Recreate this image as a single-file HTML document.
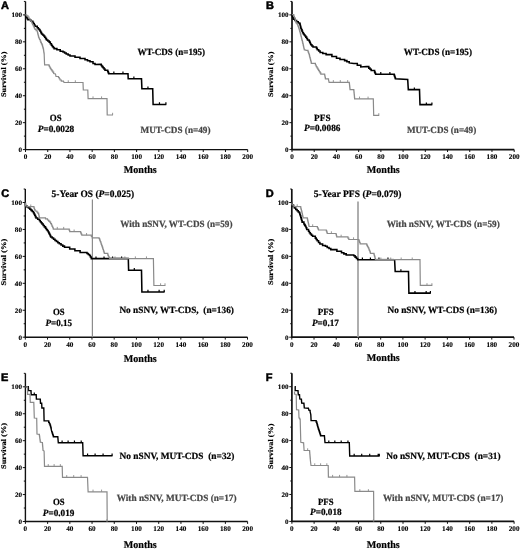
<!DOCTYPE html><html><head><meta charset="utf-8"><style>html,body{margin:0;padding:0;background:#fff;}svg{display:block;will-change:transform;text-rendering:geometricPrecision;}.s{font-family:"Liberation Sans",sans-serif;font-weight:bold;stroke:#000;stroke-width:0.5px;}.r{font-family:"Liberation Serif",serif;font-weight:bold;}.k{stroke:currentColor;stroke-width:0.22px;}</style></head><body>
<svg width="520" height="549" viewBox="0 0 520 549">
<rect width="520" height="549" fill="#fff"/>
<path d="M25.5 1.43V149.6" fill="none" stroke="#111" stroke-width="1.4"/>
<path d="M24.9 149.6H247.7" fill="none" stroke="#111" stroke-width="1.4"/>
<path d="M22.9 149.6H25.5M23.9 136.13H25.5M22.9 122.66H25.5M23.9 109.19H25.5M22.9 95.72H25.5M23.9 82.25H25.5M22.9 68.78H25.5M23.9 55.31H25.5M22.9 41.84H25.5M23.9 28.37H25.5M22.9 14.9H25.5M23.9 1.43H25.5M25.5 149.6V152M47.72 149.6V152M69.94 149.6V152M92.16 149.6V152M114.38 149.6V152M136.6 149.6V152M158.82 149.6V152M181.04 149.6V152M203.26 149.6V152M225.48 149.6V152M247.7 149.6V152" stroke="#111" stroke-width="1"/>
<text class="r" font-size="6.7" stroke="#000" stroke-width="0.12" text-anchor="end" transform="translate(22.2 152) scale(1.07 1)">0</text>
<text class="r" font-size="6.7" stroke="#000" stroke-width="0.12" text-anchor="end" transform="translate(22.2 125.06) scale(1.07 1)">20</text>
<text class="r" font-size="6.7" stroke="#000" stroke-width="0.12" text-anchor="end" transform="translate(22.2 98.12) scale(1.07 1)">40</text>
<text class="r" font-size="6.7" stroke="#000" stroke-width="0.12" text-anchor="end" transform="translate(22.2 71.18) scale(1.07 1)">60</text>
<text class="r" font-size="6.7" stroke="#000" stroke-width="0.12" text-anchor="end" transform="translate(22.2 44.24) scale(1.07 1)">80</text>
<text class="r" font-size="6.7" stroke="#000" stroke-width="0.12" text-anchor="end" transform="translate(22.2 17.3) scale(1.07 1)">100</text>
<text class="r" font-size="7.2" stroke="#000" stroke-width="0.12" text-anchor="middle" transform="translate(25.5 158.9) scale(1.0 1)">0</text>
<text class="r" font-size="7.2" stroke="#000" stroke-width="0.12" text-anchor="middle" transform="translate(47.72 158.9) scale(1.0 1)">20</text>
<text class="r" font-size="7.2" stroke="#000" stroke-width="0.12" text-anchor="middle" transform="translate(69.94 158.9) scale(1.0 1)">40</text>
<text class="r" font-size="7.2" stroke="#000" stroke-width="0.12" text-anchor="middle" transform="translate(92.16 158.9) scale(1.0 1)">60</text>
<text class="r" font-size="7.2" stroke="#000" stroke-width="0.12" text-anchor="middle" transform="translate(114.38 158.9) scale(1.0 1)">80</text>
<text class="r" font-size="7.2" stroke="#000" stroke-width="0.12" text-anchor="middle" transform="translate(136.6 158.9) scale(1.0 1)">100</text>
<text class="r" font-size="7.2" stroke="#000" stroke-width="0.12" text-anchor="middle" transform="translate(158.82 158.9) scale(1.0 1)">120</text>
<text class="r" font-size="7.2" stroke="#000" stroke-width="0.12" text-anchor="middle" transform="translate(181.04 158.9) scale(1.0 1)">140</text>
<text class="r" font-size="7.2" stroke="#000" stroke-width="0.12" text-anchor="middle" transform="translate(203.26 158.9) scale(1.0 1)">160</text>
<text class="r" font-size="7.2" stroke="#000" stroke-width="0.12" text-anchor="middle" transform="translate(225.48 158.9) scale(1.0 1)">180</text>
<text class="r" font-size="7.2" stroke="#000" stroke-width="0.12" text-anchor="middle" transform="translate(247.7 158.9) scale(1.0 1)">200</text>
<path d="M292 1.43V149.6" fill="none" stroke="#111" stroke-width="1.7"/>
<path d="M291.4 149.6H514.2" fill="none" stroke="#111" stroke-width="1.7"/>
<path d="M289.4 149.6H292M290.4 136.13H292M289.4 122.66H292M290.4 109.19H292M289.4 95.72H292M290.4 82.25H292M289.4 68.78H292M290.4 55.31H292M289.4 41.84H292M290.4 28.37H292M289.4 14.9H292M290.4 1.43H292M292 149.6V152M314.22 149.6V152M336.44 149.6V152M358.66 149.6V152M380.88 149.6V152M403.1 149.6V152M425.32 149.6V152M447.54 149.6V152M469.76 149.6V152M491.98 149.6V152M514.2 149.6V152" stroke="#111" stroke-width="1"/>
<text class="r" font-size="6.7" stroke="#000" stroke-width="0.12" text-anchor="end" transform="translate(288.7 152) scale(1.07 1)">0</text>
<text class="r" font-size="6.7" stroke="#000" stroke-width="0.12" text-anchor="end" transform="translate(288.7 125.06) scale(1.07 1)">20</text>
<text class="r" font-size="6.7" stroke="#000" stroke-width="0.12" text-anchor="end" transform="translate(288.7 98.12) scale(1.07 1)">40</text>
<text class="r" font-size="6.7" stroke="#000" stroke-width="0.12" text-anchor="end" transform="translate(288.7 71.18) scale(1.07 1)">60</text>
<text class="r" font-size="6.7" stroke="#000" stroke-width="0.12" text-anchor="end" transform="translate(288.7 44.24) scale(1.07 1)">80</text>
<text class="r" font-size="6.7" stroke="#000" stroke-width="0.12" text-anchor="end" transform="translate(288.7 17.3) scale(1.07 1)">100</text>
<text class="r" font-size="7.2" stroke="#000" stroke-width="0.12" text-anchor="middle" transform="translate(292 158.9) scale(1.0 1)">0</text>
<text class="r" font-size="7.2" stroke="#000" stroke-width="0.12" text-anchor="middle" transform="translate(314.22 158.9) scale(1.0 1)">20</text>
<text class="r" font-size="7.2" stroke="#000" stroke-width="0.12" text-anchor="middle" transform="translate(336.44 158.9) scale(1.0 1)">40</text>
<text class="r" font-size="7.2" stroke="#000" stroke-width="0.12" text-anchor="middle" transform="translate(358.66 158.9) scale(1.0 1)">60</text>
<text class="r" font-size="7.2" stroke="#000" stroke-width="0.12" text-anchor="middle" transform="translate(380.88 158.9) scale(1.0 1)">80</text>
<text class="r" font-size="7.2" stroke="#000" stroke-width="0.12" text-anchor="middle" transform="translate(403.1 158.9) scale(1.0 1)">100</text>
<text class="r" font-size="7.2" stroke="#000" stroke-width="0.12" text-anchor="middle" transform="translate(425.32 158.9) scale(1.0 1)">120</text>
<text class="r" font-size="7.2" stroke="#000" stroke-width="0.12" text-anchor="middle" transform="translate(447.54 158.9) scale(1.0 1)">140</text>
<text class="r" font-size="7.2" stroke="#000" stroke-width="0.12" text-anchor="middle" transform="translate(469.76 158.9) scale(1.0 1)">160</text>
<text class="r" font-size="7.2" stroke="#000" stroke-width="0.12" text-anchor="middle" transform="translate(491.98 158.9) scale(1.0 1)">180</text>
<text class="r" font-size="7.2" stroke="#000" stroke-width="0.12" text-anchor="middle" transform="translate(514.2 158.9) scale(1.0 1)">200</text>
<path d="M25.3 189.03V337.2" fill="none" stroke="#111" stroke-width="1.4"/>
<path d="M24.7 337.2H247.5" fill="none" stroke="#111" stroke-width="1.4"/>
<path d="M22.7 337.2H25.3M23.7 323.73H25.3M22.7 310.26H25.3M23.7 296.79H25.3M22.7 283.32H25.3M23.7 269.85H25.3M22.7 256.38H25.3M23.7 242.91H25.3M22.7 229.44H25.3M23.7 215.97H25.3M22.7 202.5H25.3M23.7 189.03H25.3M25.3 337.2V339.6M47.52 337.2V339.6M69.74 337.2V339.6M91.96 337.2V339.6M114.18 337.2V339.6M136.4 337.2V339.6M158.62 337.2V339.6M180.84 337.2V339.6M203.06 337.2V339.6M225.28 337.2V339.6M247.5 337.2V339.6" stroke="#111" stroke-width="1"/>
<text class="r" font-size="6.7" stroke="#000" stroke-width="0.12" text-anchor="end" transform="translate(22 339.6) scale(1.07 1)">0</text>
<text class="r" font-size="6.7" stroke="#000" stroke-width="0.12" text-anchor="end" transform="translate(22 312.66) scale(1.07 1)">20</text>
<text class="r" font-size="6.7" stroke="#000" stroke-width="0.12" text-anchor="end" transform="translate(22 285.72) scale(1.07 1)">40</text>
<text class="r" font-size="6.7" stroke="#000" stroke-width="0.12" text-anchor="end" transform="translate(22 258.78) scale(1.07 1)">60</text>
<text class="r" font-size="6.7" stroke="#000" stroke-width="0.12" text-anchor="end" transform="translate(22 231.84) scale(1.07 1)">80</text>
<text class="r" font-size="6.7" stroke="#000" stroke-width="0.12" text-anchor="end" transform="translate(22 204.9) scale(1.07 1)">100</text>
<text class="r" font-size="7.2" stroke="#000" stroke-width="0.12" text-anchor="middle" transform="translate(25.3 346.5) scale(1.0 1)">0</text>
<text class="r" font-size="7.2" stroke="#000" stroke-width="0.12" text-anchor="middle" transform="translate(47.52 346.5) scale(1.0 1)">20</text>
<text class="r" font-size="7.2" stroke="#000" stroke-width="0.12" text-anchor="middle" transform="translate(69.74 346.5) scale(1.0 1)">40</text>
<text class="r" font-size="7.2" stroke="#000" stroke-width="0.12" text-anchor="middle" transform="translate(91.96 346.5) scale(1.0 1)">60</text>
<text class="r" font-size="7.2" stroke="#000" stroke-width="0.12" text-anchor="middle" transform="translate(114.18 346.5) scale(1.0 1)">80</text>
<text class="r" font-size="7.2" stroke="#000" stroke-width="0.12" text-anchor="middle" transform="translate(136.4 346.5) scale(1.0 1)">100</text>
<text class="r" font-size="7.2" stroke="#000" stroke-width="0.12" text-anchor="middle" transform="translate(158.62 346.5) scale(1.0 1)">120</text>
<text class="r" font-size="7.2" stroke="#000" stroke-width="0.12" text-anchor="middle" transform="translate(180.84 346.5) scale(1.0 1)">140</text>
<text class="r" font-size="7.2" stroke="#000" stroke-width="0.12" text-anchor="middle" transform="translate(203.06 346.5) scale(1.0 1)">160</text>
<text class="r" font-size="7.2" stroke="#000" stroke-width="0.12" text-anchor="middle" transform="translate(225.28 346.5) scale(1.0 1)">180</text>
<text class="r" font-size="7.2" stroke="#000" stroke-width="0.12" text-anchor="middle" transform="translate(247.5 346.5) scale(1.0 1)">200</text>
<path d="M291.8 189.03V337.2" fill="none" stroke="#111" stroke-width="1.7"/>
<path d="M291.2 337.2H514" fill="none" stroke="#111" stroke-width="1.7"/>
<path d="M289.2 337.2H291.8M290.2 323.73H291.8M289.2 310.26H291.8M290.2 296.79H291.8M289.2 283.32H291.8M290.2 269.85H291.8M289.2 256.38H291.8M290.2 242.91H291.8M289.2 229.44H291.8M290.2 215.97H291.8M289.2 202.5H291.8M290.2 189.03H291.8M291.8 337.2V339.6M314.02 337.2V339.6M336.24 337.2V339.6M358.46 337.2V339.6M380.68 337.2V339.6M402.9 337.2V339.6M425.12 337.2V339.6M447.34 337.2V339.6M469.56 337.2V339.6M491.78 337.2V339.6M514 337.2V339.6" stroke="#111" stroke-width="1"/>
<text class="r" font-size="6.7" stroke="#000" stroke-width="0.12" text-anchor="end" transform="translate(288.5 339.6) scale(1.07 1)">0</text>
<text class="r" font-size="6.7" stroke="#000" stroke-width="0.12" text-anchor="end" transform="translate(288.5 312.66) scale(1.07 1)">20</text>
<text class="r" font-size="6.7" stroke="#000" stroke-width="0.12" text-anchor="end" transform="translate(288.5 285.72) scale(1.07 1)">40</text>
<text class="r" font-size="6.7" stroke="#000" stroke-width="0.12" text-anchor="end" transform="translate(288.5 258.78) scale(1.07 1)">60</text>
<text class="r" font-size="6.7" stroke="#000" stroke-width="0.12" text-anchor="end" transform="translate(288.5 231.84) scale(1.07 1)">80</text>
<text class="r" font-size="6.7" stroke="#000" stroke-width="0.12" text-anchor="end" transform="translate(288.5 204.9) scale(1.07 1)">100</text>
<text class="r" font-size="7.2" stroke="#000" stroke-width="0.12" text-anchor="middle" transform="translate(291.8 346.5) scale(1.0 1)">0</text>
<text class="r" font-size="7.2" stroke="#000" stroke-width="0.12" text-anchor="middle" transform="translate(314.02 346.5) scale(1.0 1)">20</text>
<text class="r" font-size="7.2" stroke="#000" stroke-width="0.12" text-anchor="middle" transform="translate(336.24 346.5) scale(1.0 1)">40</text>
<text class="r" font-size="7.2" stroke="#000" stroke-width="0.12" text-anchor="middle" transform="translate(358.46 346.5) scale(1.0 1)">60</text>
<text class="r" font-size="7.2" stroke="#000" stroke-width="0.12" text-anchor="middle" transform="translate(380.68 346.5) scale(1.0 1)">80</text>
<text class="r" font-size="7.2" stroke="#000" stroke-width="0.12" text-anchor="middle" transform="translate(402.9 346.5) scale(1.0 1)">100</text>
<text class="r" font-size="7.2" stroke="#000" stroke-width="0.12" text-anchor="middle" transform="translate(425.12 346.5) scale(1.0 1)">120</text>
<text class="r" font-size="7.2" stroke="#000" stroke-width="0.12" text-anchor="middle" transform="translate(447.34 346.5) scale(1.0 1)">140</text>
<text class="r" font-size="7.2" stroke="#000" stroke-width="0.12" text-anchor="middle" transform="translate(469.56 346.5) scale(1.0 1)">160</text>
<text class="r" font-size="7.2" stroke="#000" stroke-width="0.12" text-anchor="middle" transform="translate(491.78 346.5) scale(1.0 1)">180</text>
<text class="r" font-size="7.2" stroke="#000" stroke-width="0.12" text-anchor="middle" transform="translate(514 346.5) scale(1.0 1)">200</text>
<path d="M25.4 373.33V521.5" fill="none" stroke="#111" stroke-width="1.4"/>
<path d="M24.8 521.5H247.6" fill="none" stroke="#111" stroke-width="1.4"/>
<path d="M22.8 521.5H25.4M23.8 508.03H25.4M22.8 494.56H25.4M23.8 481.09H25.4M22.8 467.62H25.4M23.8 454.15H25.4M22.8 440.68H25.4M23.8 427.21H25.4M22.8 413.74H25.4M23.8 400.27H25.4M22.8 386.8H25.4M23.8 373.33H25.4M25.4 521.5V523.9M47.62 521.5V523.9M69.84 521.5V523.9M92.06 521.5V523.9M114.28 521.5V523.9M136.5 521.5V523.9M158.72 521.5V523.9M180.94 521.5V523.9M203.16 521.5V523.9M225.38 521.5V523.9M247.6 521.5V523.9" stroke="#111" stroke-width="1"/>
<text class="r" font-size="6.7" stroke="#000" stroke-width="0.12" text-anchor="end" transform="translate(22.1 523.9) scale(1.07 1)">0</text>
<text class="r" font-size="6.7" stroke="#000" stroke-width="0.12" text-anchor="end" transform="translate(22.1 496.96) scale(1.07 1)">20</text>
<text class="r" font-size="6.7" stroke="#000" stroke-width="0.12" text-anchor="end" transform="translate(22.1 470.02) scale(1.07 1)">40</text>
<text class="r" font-size="6.7" stroke="#000" stroke-width="0.12" text-anchor="end" transform="translate(22.1 443.08) scale(1.07 1)">60</text>
<text class="r" font-size="6.7" stroke="#000" stroke-width="0.12" text-anchor="end" transform="translate(22.1 416.14) scale(1.07 1)">80</text>
<text class="r" font-size="6.7" stroke="#000" stroke-width="0.12" text-anchor="end" transform="translate(22.1 389.2) scale(1.07 1)">100</text>
<text class="r" font-size="7.2" stroke="#000" stroke-width="0.12" text-anchor="middle" transform="translate(25.4 530.8) scale(1.0 1)">0</text>
<text class="r" font-size="7.2" stroke="#000" stroke-width="0.12" text-anchor="middle" transform="translate(47.62 530.8) scale(1.0 1)">20</text>
<text class="r" font-size="7.2" stroke="#000" stroke-width="0.12" text-anchor="middle" transform="translate(69.84 530.8) scale(1.0 1)">40</text>
<text class="r" font-size="7.2" stroke="#000" stroke-width="0.12" text-anchor="middle" transform="translate(92.06 530.8) scale(1.0 1)">60</text>
<text class="r" font-size="7.2" stroke="#000" stroke-width="0.12" text-anchor="middle" transform="translate(114.28 530.8) scale(1.0 1)">80</text>
<text class="r" font-size="7.2" stroke="#000" stroke-width="0.12" text-anchor="middle" transform="translate(136.5 530.8) scale(1.0 1)">100</text>
<text class="r" font-size="7.2" stroke="#000" stroke-width="0.12" text-anchor="middle" transform="translate(158.72 530.8) scale(1.0 1)">120</text>
<text class="r" font-size="7.2" stroke="#000" stroke-width="0.12" text-anchor="middle" transform="translate(180.94 530.8) scale(1.0 1)">140</text>
<text class="r" font-size="7.2" stroke="#000" stroke-width="0.12" text-anchor="middle" transform="translate(203.16 530.8) scale(1.0 1)">160</text>
<text class="r" font-size="7.2" stroke="#000" stroke-width="0.12" text-anchor="middle" transform="translate(225.38 530.8) scale(1.0 1)">180</text>
<text class="r" font-size="7.2" stroke="#000" stroke-width="0.12" text-anchor="middle" transform="translate(247.6 530.8) scale(1.0 1)">200</text>
<path d="M291.9 373.23V521.4" fill="none" stroke="#111" stroke-width="1.7"/>
<path d="M291.3 521.4H514.1" fill="none" stroke="#111" stroke-width="1.7"/>
<path d="M289.3 521.4H291.9M290.3 507.93H291.9M289.3 494.46H291.9M290.3 480.99H291.9M289.3 467.52H291.9M290.3 454.05H291.9M289.3 440.58H291.9M290.3 427.11H291.9M289.3 413.64H291.9M290.3 400.17H291.9M289.3 386.7H291.9M290.3 373.23H291.9M291.9 521.4V523.8M314.12 521.4V523.8M336.34 521.4V523.8M358.56 521.4V523.8M380.78 521.4V523.8M403 521.4V523.8M425.22 521.4V523.8M447.44 521.4V523.8M469.66 521.4V523.8M491.88 521.4V523.8M514.1 521.4V523.8" stroke="#111" stroke-width="1"/>
<text class="r" font-size="6.7" stroke="#000" stroke-width="0.12" text-anchor="end" transform="translate(288.6 523.8) scale(1.07 1)">0</text>
<text class="r" font-size="6.7" stroke="#000" stroke-width="0.12" text-anchor="end" transform="translate(288.6 496.86) scale(1.07 1)">20</text>
<text class="r" font-size="6.7" stroke="#000" stroke-width="0.12" text-anchor="end" transform="translate(288.6 469.92) scale(1.07 1)">40</text>
<text class="r" font-size="6.7" stroke="#000" stroke-width="0.12" text-anchor="end" transform="translate(288.6 442.98) scale(1.07 1)">60</text>
<text class="r" font-size="6.7" stroke="#000" stroke-width="0.12" text-anchor="end" transform="translate(288.6 416.04) scale(1.07 1)">80</text>
<text class="r" font-size="6.7" stroke="#000" stroke-width="0.12" text-anchor="end" transform="translate(288.6 389.1) scale(1.07 1)">100</text>
<text class="r" font-size="7.2" stroke="#000" stroke-width="0.12" text-anchor="middle" transform="translate(291.9 530.7) scale(1.0 1)">0</text>
<text class="r" font-size="7.2" stroke="#000" stroke-width="0.12" text-anchor="middle" transform="translate(314.12 530.7) scale(1.0 1)">20</text>
<text class="r" font-size="7.2" stroke="#000" stroke-width="0.12" text-anchor="middle" transform="translate(336.34 530.7) scale(1.0 1)">40</text>
<text class="r" font-size="7.2" stroke="#000" stroke-width="0.12" text-anchor="middle" transform="translate(358.56 530.7) scale(1.0 1)">60</text>
<text class="r" font-size="7.2" stroke="#000" stroke-width="0.12" text-anchor="middle" transform="translate(380.78 530.7) scale(1.0 1)">80</text>
<text class="r" font-size="7.2" stroke="#000" stroke-width="0.12" text-anchor="middle" transform="translate(403 530.7) scale(1.0 1)">100</text>
<text class="r" font-size="7.2" stroke="#000" stroke-width="0.12" text-anchor="middle" transform="translate(425.22 530.7) scale(1.0 1)">120</text>
<text class="r" font-size="7.2" stroke="#000" stroke-width="0.12" text-anchor="middle" transform="translate(447.44 530.7) scale(1.0 1)">140</text>
<text class="r" font-size="7.2" stroke="#000" stroke-width="0.12" text-anchor="middle" transform="translate(469.66 530.7) scale(1.0 1)">160</text>
<text class="r" font-size="7.2" stroke="#000" stroke-width="0.12" text-anchor="middle" transform="translate(491.88 530.7) scale(1.0 1)">180</text>
<text class="r" font-size="7.2" stroke="#000" stroke-width="0.12" text-anchor="middle" transform="translate(514.1 530.7) scale(1.0 1)">200</text>
<path d="M92.4 199.4V337.2" stroke="#8c8c8c" stroke-width="1.2"/>
<path d="M358 201.5V337.2" stroke="#a0a0a0" stroke-width="1.7"/>
<path d="M25.5 15 L25.7 16.4 L26.43 16.4 L26.43 17.5 L27.17 17.5 L27.17 18.6 L27.9 18.6 L27.9 19.7 L30.7 19.7 L30.7 21.3 L32.8 21.3 L32.8 22.4 L33.53 22.4 L33.53 23.67 L34.27 23.67 L34.27 24.93 L35 24.93 L35 26.2 L37.2 26.2 L37.2 27.8 L38.3 27.8 L38.3 28.9 L39.4 28.9 L39.4 30 L40.13 30 L40.13 31.3 L40.87 31.3 L40.87 32.6 L41.6 32.6 L41.6 33.9 L42.7 33.9 L42.7 34.95 L43.8 34.95 L43.8 36 L44.7 36 L44.7 37.3 L45.6 37.3 L45.6 38.6 L46.5 38.6 L46.5 39.9 L47.85 39.9 L47.85 41 L49.2 41 L49.2 42.1 L50.3 42.1 L50.3 43.7 L51.4 43.7 L51.4 45.3 L52.3 45.3 L52.3 46.4 L53.2 46.4 L53.2 47.5 L54.1 47.5 L54.1 48.6 L56.9 48.6 L56.9 49.7 L60.2 49.7 L60.2 51.3 L63 51.3 L63 52 L64.6 52 L64.6 53 L66.2 53 L66.2 54 L68.1 54 L68.1 55 L70 55 L70 56 L75 56 L75 57.3 L80 57.3 L80 58.5 L85 58.5 L85 59.8 L87.5 59.8 L87.5 60.8 L90 60.8 L90 61.8 L93 61.8 L93 63.5 L95 63.5 L95 64.5 L100.5 64.3 L101.25 64.3 L101.25 65.45 L102 65.45 L102 66.6 L103 66.6 L103 67.8 L104 67.8 L104 69 L105 69 L105 70.2 L107.7 70.2 L107.7 71.5 L108.2 71.5 L108.2 72.6 L108.7 72.6 L108.7 73.7 L128 73.7 L128.2 78.7 L141.5 78.7 L141.9 88.8 L152.7 88.8 L153.1 104.4 L166.3 104.4" fill="none" stroke="#000" stroke-width="1.55" stroke-linejoin="miter"/>
<path d="M113.86 71.5V73.7M122.96 71.5V73.7M133.88 76.5V78.7M147.95 86.6V88.8M159.46 102.2V104.4M165.9 102.2V104.4" stroke="#000" stroke-width="1.2"/>
<path d="M25.3 14.8 L26.65 14.8 L26.65 15.9 L28 15.9 L28 17 L29 17 L29 18.5 L30 18.5 L30 20 L30.83 20 L30.83 21.5 L31.67 21.5 L31.67 23 L32.5 23 L32.5 24.5 L33.12 24.5 L33.12 25.75 L33.75 25.75 L33.75 27 L34.38 27 L34.38 28.25 L35 28.25 L35 29.5 L36.15 29.5 L36.15 30.75 L37.3 30.75 L37.3 32 L37.6 32 L37.6 33.2 L37.9 33.2 L37.9 34.4 L38.2 34.4 L38.2 35.6 L38.5 35.6 L38.5 36.8 L38.8 36.8 L38.8 38 L39.5 38 L39.5 39.5 L40.2 39.5 L40.2 41 L40.78 41 L40.78 42.33 L41.35 42.33 L41.35 43.65 L41.92 43.65 L41.92 44.97 L42.5 44.97 L42.5 46.3 L42.83 46.3 L42.83 47.53 L43.17 47.53 L43.17 48.77 L43.5 48.77 L43.5 50 L43.67 50 L43.67 51.25 L43.85 51.25 L43.85 52.5 L44.03 52.5 L44.03 53.75 L44.2 53.75 L44.2 55 L44.6 64.8 L48.5 64.8 L49 64.8 L49 65.9 L49.5 65.9 L49.5 67 L50.25 67 L50.25 68.3 L51 68.3 L51 69.6 L51.9 69.6 L51.9 70.9 L52.8 70.9 L52.8 72.2 L53.7 72.2 L53.7 73.5 L55.5 74 L56 76.5 L58.5 76.5 L58.5 77.5 L59.25 77.5 L59.25 78.75 L60 78.75 L60 80 L61.3 80 L61.3 81.2 L63.5 81.2 L64 82.5 L83 82.5 L83.3 90 L87.8 90 L88.1 98.6 L107 98.6 L107.2 115 L113 115" fill="none" stroke="#8a8a8a" stroke-width="1.2" stroke-linejoin="miter"/>
<path d="M68.26 80.3V82.5M75.33 80.3V82.5M93.02 96.4V98.6M101.57 96.4V98.6M112.6 112.8V115" stroke="#8a8a8a" stroke-width="0.9"/>
<path d="M292 15 L292.43 15 L292.43 16.37 L292.87 16.37 L292.87 17.73 L293.3 17.73 L293.3 19.1 L294.95 19.1 L294.95 20.45 L296.6 20.45 L296.6 21.8 L298.2 21.8 L298.2 22.9 L299.8 22.9 L299.8 24 L300.17 24 L300.17 25.47 L300.53 25.47 L300.53 26.93 L300.9 26.93 L300.9 28.4 L301.47 28.4 L301.47 29.87 L302.03 29.87 L302.03 31.33 L302.6 31.33 L302.6 32.8 L303.4 32.8 L303.4 33.9 L304.2 33.9 L304.2 35 L305 35 L305 36.05 L305.8 36.05 L305.8 37.1 L306.65 37.1 L306.65 38.5 L307.5 38.5 L307.5 39.9 L309.1 39.9 L309.1 41 L309.67 41 L309.67 42.27 L310.23 42.27 L310.23 43.53 L310.8 43.53 L310.8 44.8 L311.9 44.8 L311.9 45.9 L313 45.9 L313 47 L315.7 47 L316.5 47 L316.5 48.35 L317.3 48.35 L317.3 49.7 L318.7 49.7 L318.7 51.05 L320.1 51.05 L320.1 52.4 L322.8 52.4 L322.8 53.5 L326.1 53.5 L326.1 54.6 L331.9 54.6 L331.9 56.5 L336.5 56.5 L336.5 58.3 L340 58.3 L340 59.4 L344.6 59.4 L344.6 60.6 L346.9 60.6 L346.9 61.75 L349.2 61.75 L349.2 62.9 L353.8 63.5 L357.3 63.5 L357.3 65.2 L360.8 65.2 L360.8 66.9 L366.5 66.6 L368.8 66.6 L368.8 68.1 L370 68.1 L370 69.25 L371.2 69.25 L371.2 70.4 L374.6 70.4 L374.6 72.1 L375.1 72.1 L375.1 73.15 L375.6 73.15 L375.6 74.2 L393.8 74.2 L394.2 74.2 L394.2 75.35 L394.6 75.35 L394.6 76.5 L395 76.5 L395 77.65 L395.4 77.65 L395.4 78.8 L407.7 79.4 L408.3 89.6 L419.5 89.6 L420 104.6 L432.3 104.6" fill="none" stroke="#000" stroke-width="1.55" stroke-linejoin="miter"/>
<path d="M380.77 72V74.2M389.89 72V74.2M414.35 87.4V89.6M426.37 102.4V104.6M431.9 102.4V104.6" stroke="#000" stroke-width="1.2"/>
<path d="M292 14.7 L293.8 14.7 L293.8 16.4 L294.4 16.4 L294.4 17.7 L295 17.7 L295 19 L295.33 19 L295.33 20.3 L295.67 20.3 L295.67 21.6 L296 21.6 L296 22.9 L296.85 22.9 L296.85 24 L297.7 24 L297.7 25.1 L298.1 25.1 L298.1 26.33 L298.5 26.33 L298.5 27.55 L298.9 27.55 L298.9 28.77 L299.3 28.77 L299.3 30 L299.67 30 L299.67 31.3 L300.03 31.3 L300.03 32.6 L300.4 32.6 L300.4 33.9 L300.72 33.9 L300.72 35.2 L301.04 35.2 L301.04 36.5 L301.36 36.5 L301.36 37.8 L301.68 37.8 L301.68 39.1 L302 39.1 L302 40.4 L302.37 40.4 L302.37 41.87 L302.73 41.87 L302.73 43.33 L303.1 43.33 L303.1 44.8 L303.38 44.8 L303.38 46.02 L303.65 46.02 L303.65 47.25 L303.93 47.25 L303.93 48.48 L304.2 48.48 L304.2 49.7 L306.4 50.3 L308 50.3 L308 51.9 L308.55 51.9 L308.55 53.25 L309.1 53.25 L309.1 54.6 L309.47 54.6 L309.47 56.07 L309.83 56.07 L309.83 57.53 L310.2 57.53 L310.2 59 L310.57 59 L310.57 60.47 L310.93 60.47 L310.93 61.93 L311.3 61.93 L311.3 63.4 L314.6 63.4 L315.4 63.4 L315.4 65 L316.2 65 L316.2 66.6 L316.97 66.6 L316.97 67.87 L317.73 67.87 L317.73 69.13 L318.5 69.13 L318.5 70.4 L319.27 70.4 L319.27 71.67 L320.03 71.67 L320.03 72.93 L320.8 72.93 L320.8 74.2 L324.6 74.2 L324.6 75 L324.87 75 L324.87 76.27 L325.13 76.27 L325.13 77.53 L325.4 77.53 L325.4 78.8 L328.5 78.8 L328.5 79.6 L329.1 82.3 L349.2 82.3 L349.33 82.3 L349.33 83.52 L349.47 83.52 L349.47 84.73 L349.6 84.73 L349.6 85.95 L349.73 85.95 L349.73 87.17 L349.87 87.17 L349.87 88.38 L350 88.38 L350 89.6 L353.8 89.6 L353.8 90.4 L353.93 90.4 L353.93 91.8 L354.07 91.8 L354.07 93.2 L354.2 93.2 L354.2 94.6 L354.33 94.6 L354.33 96 L354.47 96 L354.47 97.4 L354.6 97.4 L354.6 98.8 L373.3 98.8 L373.7 115.4 L379.2 115.4" fill="none" stroke="#8a8a8a" stroke-width="1.2" stroke-linejoin="miter"/>
<path d="M333.33 80.1V82.3M340.31 80.1V82.3M347.7 80.1V82.3M359.52 96.6V98.8M368.07 96.6V98.8M378.8 113.2V115.4" stroke="#8a8a8a" stroke-width="0.9"/>
<path d="M25.3 202.6 L25.6 205.8 L27.03 205.8 L27.03 206.93 L28.47 206.93 L28.47 208.07 L29.9 208.07 L29.9 209.2 L31.07 209.2 L31.07 210.37 L32.23 210.37 L32.23 211.53 L33.4 211.53 L33.4 212.7 L34.05 212.7 L34.05 214 L34.7 214 L34.7 215.3 L35.35 215.3 L35.35 216.6 L36 216.6 L36 217.9 L37.7 217.9 L37.7 219.2 L39.4 219.2 L39.4 220.5 L40.27 220.5 L40.27 221.67 L41.13 221.67 L41.13 222.83 L42 222.83 L42 224 L43.17 224 L43.17 225.43 L44.33 225.43 L44.33 226.87 L45.5 226.87 L45.5 228.3 L46.37 228.3 L46.37 229.43 L47.23 229.43 L47.23 230.57 L48.1 230.57 L48.1 231.7 L48.75 231.7 L48.75 233 L49.4 233 L49.4 234.3 L50.05 234.3 L50.05 235.6 L50.7 235.6 L50.7 236.9 L52.13 236.9 L52.13 238.07 L53.57 238.07 L53.57 239.23 L55 239.23 L55 240.4 L56.43 240.4 L56.43 241.53 L57.87 241.53 L57.87 242.67 L59.3 242.67 L59.3 243.8 L61.03 243.8 L61.03 244.97 L62.77 244.97 L62.77 246.13 L64.5 246.13 L64.5 247.3 L69.7 247.3 L69.7 249 L74.9 249 L74.9 250.8 L80.1 250.8 L80.1 252.5 L87 252.5 L87 253.4 L88.25 253.4 L88.25 254.45 L89.5 254.45 L89.5 255.5 L90.4 255.5 L90.4 257.05 L91.3 257.05 L91.3 258.6 L128.3 258.6 L128.6 270.3 L141.5 270.3 L141.9 292 L164.6 292" fill="none" stroke="#000" stroke-width="1.55" stroke-linejoin="miter"/>
<path d="M95.99 256.4V258.6M104.03 256.4V258.6M112.56 256.4V258.6M121.59 256.4V258.6M134.3 268.1V270.3M147.96 289.8V292M159.12 289.8V292M164.2 289.8V292" stroke="#000" stroke-width="1.2"/>
<path d="M25.3 202.6 L25.6 205.8 L27.5 205.8 L27.5 206.7 L33.4 206.7 L33.97 206.7 L33.97 208.13 L34.53 208.13 L34.53 209.57 L35.1 209.57 L35.1 211 L36.8 211 L36.8 212 L37.7 212 L37.7 213.2 L38.6 213.2 L38.6 214.4 L38.87 214.4 L38.87 215.57 L39.13 215.57 L39.13 216.73 L39.4 216.73 L39.4 217.9 L45.5 217.9 L45.5 218.8 L47.5 218.8 L47.5 220 L48.65 220 L48.65 221.1 L49.8 221.1 L49.8 222.2 L50.65 222.2 L50.65 223.6 L51.5 223.6 L51.5 225 L52.1 225 L52.1 226.37 L52.7 226.37 L52.7 227.73 L53.3 227.73 L53.3 229.1 L68.8 229.1 L69.25 229.1 L69.25 230.4 L69.7 230.4 L69.7 231.7 L80.1 231.7 L80.67 231.7 L80.67 232.87 L81.23 232.87 L81.23 234.03 L81.8 234.03 L81.8 235.2 L90.5 235.2 L91.35 235.2 L91.35 236.5 L92.2 236.5 L92.2 237.8 L99.1 237.8 L99.1 238.7 L99.67 238.7 L99.67 240.13 L100.23 240.13 L100.23 241.57 L100.8 241.57 L100.8 243 L101.25 243 L101.25 244.3 L101.7 244.3 L101.7 245.6 L102.15 245.6 L102.15 246.9 L102.6 246.9 L102.6 248.2 L103.02 248.2 L103.02 249.5 L103.45 249.5 L103.45 250.8 L103.88 250.8 L103.88 252.1 L104.3 252.1 L104.3 253.4 L107.8 253.4 L107.8 255.1 L108.37 255.1 L108.37 256.27 L108.93 256.27 L108.93 257.43 L109.5 257.43 L109.5 258.6 L153.4 258.6 L153.9 285.5 L165.4 285.5" fill="none" stroke="#8a8a8a" stroke-width="1.2" stroke-linejoin="miter"/>
<path d="M30.78 204.5V206.7M57.28 226.9V229.1M63.7 226.9V229.1M74.12 229.5V231.7M86.55 233V235.2M115 256.4V258.6M124.88 256.4V258.6M135.36 256.4V258.6M146.46 256.4V258.6M160.6 283.3V285.5M165 283.3V285.5" stroke="#8a8a8a" stroke-width="0.9"/>
<path d="M291.7 202.6 L292.1 204.8 L293.25 204.8 L293.25 206.4 L294.4 206.4 L294.4 208 L295.75 208 L295.75 209.4 L297.1 209.4 L297.1 210.8 L298.25 210.8 L298.25 211.9 L299.4 211.9 L299.4 213 L299.85 213 L299.85 214.4 L300.3 214.4 L300.3 215.8 L300.75 215.8 L300.75 217.4 L301.2 217.4 L301.2 219 L301.65 219 L301.65 220.55 L302.1 220.55 L302.1 222.1 L303.9 222.1 L303.9 224 L304.6 224 L304.6 225.1 L305.3 225.1 L305.3 226.2 L306 226.2 L306 227.8 L306.7 227.8 L306.7 229.4 L308.5 229.4 L308.5 231.3 L309.4 231.3 L309.4 232.65 L310.3 232.65 L310.3 234 L311.45 234 L311.45 235.15 L312.6 235.15 L312.6 236.3 L315.3 236.3 L315.3 238.1 L316.25 238.1 L316.25 239.45 L317.2 239.45 L317.2 240.8 L318.55 240.8 L318.55 242.4 L319.9 242.4 L319.9 244 L322.6 244 L322.6 245.4 L325.4 245.4 L325.4 246.3 L327.2 246.3 L327.2 247.4 L329 247.4 L329 248.5 L330.8 248.5 L330.8 249.6 L336.9 249.6 L336.9 251.2 L341.5 251.2 L341.5 252.7 L343.85 252.7 L343.85 253.85 L346.2 253.85 L346.2 255 L353.8 255 L353.8 255.8 L355.1 255.8 L355.1 257.1 L356.4 257.1 L356.4 258.4 L357.7 258.4 L357.7 259.7 L394.6 259.7 L395.2 271.5 L408.5 271.5 L408.9 293.1 L430.8 293.1" fill="none" stroke="#000" stroke-width="1.55" stroke-linejoin="miter"/>
<path d="M362.39 257.5V259.7M370.42 257.5V259.7M378.94 257.5V259.7M387.97 257.5V259.7M400.9 269.3V271.5M414.97 290.9V293.1M426.16 290.9V293.1M430.4 290.9V293.1" stroke="#000" stroke-width="1.2"/>
<path d="M291.8 202.6 L292.1 204.8 L293.9 204.8 L293.9 206.5 L300.4 206.7 L300.74 206.7 L300.74 208.08 L301.08 208.08 L301.08 209.46 L301.42 209.46 L301.42 210.84 L301.76 210.84 L301.76 212.22 L302.1 212.22 L302.1 213.6 L302.4 213.6 L302.4 215.03 L302.7 215.03 L302.7 216.47 L303 216.47 L303 217.9 L307.3 217.9 L307.3 218.8 L307.58 218.8 L307.58 220.08 L307.87 220.08 L307.87 221.37 L308.15 221.37 L308.15 222.65 L308.43 222.65 L308.43 223.93 L308.72 223.93 L308.72 225.22 L309 225.22 L309 226.5 L316.8 226.5 L317.37 226.5 L317.37 227.67 L317.93 227.67 L317.93 228.83 L318.5 228.83 L318.5 230 L326.3 230 L326.3 230.9 L326.75 230.9 L326.75 232.2 L327.2 232.2 L327.2 233.5 L335.8 233.5 L336.1 233.5 L336.1 234.63 L336.4 234.63 L336.4 235.77 L336.7 235.77 L336.7 236.9 L347.1 236.9 L347.95 236.9 L347.95 238.2 L348.8 238.2 L348.8 239.5 L358.3 239.5 L358.9 239.5 L358.9 240.93 L359.5 240.93 L359.5 242.37 L360.1 242.37 L360.1 243.8 L366.1 243.8 L366.75 243.8 L366.75 245.1 L367.4 245.1 L367.4 246.4 L368.05 246.4 L368.05 247.7 L368.7 247.7 L368.7 249 L369.27 249 L369.27 250.47 L369.83 250.47 L369.83 251.93 L370.4 251.93 L370.4 253.4 L373.9 253.4 L373.9 254.2 L374.27 254.2 L374.27 255.57 L374.65 255.57 L374.65 256.95 L375.02 256.95 L375.02 258.32 L375.4 258.32 L375.4 259.7 L420 259.7 L420.3 285.4 L432.3 285.4" fill="none" stroke="#8a8a8a" stroke-width="1.2" stroke-linejoin="miter"/>
<path d="M297.18 204.3V206.5M312.69 224.3V226.5M331.38 231.3V233.5M341.14 234.7V236.9M353.56 237.3V239.5M380.88 257.5V259.7M390.73 257.5V259.7M401.16 257.5V259.7M412.22 257.5V259.7M426.99 283.2V285.4M431.9 283.2V285.4" stroke="#8a8a8a" stroke-width="0.9"/>
<path d="M25.4 386.8 L28.3 386.8 L28.5 390.6 L31 390.6 L31.2 394.8 L36.2 394.8 L36.4 399.1 L40.3 399.1 L40.5 403.3 L41.7 403.3 L41.9 408 L43.8 408 L44.1 420.9 L48 420.9 L48.7 420.9 L48.7 422.37 L49.4 422.37 L49.4 423.83 L50.1 423.83 L50.1 425.3 L50.47 425.3 L50.47 426.57 L50.83 426.57 L50.83 427.83 L51.2 427.83 L51.2 429.1 L51.8 431.9 L52.2 431.9 L52.2 433.12 L52.6 433.12 L52.6 434.35 L53 434.35 L53 435.57 L53.4 435.57 L53.4 436.8 L57.8 436.8 L58.3 442.8 L82.7 442.8 L83.1 455.7 L112.5 455.7" fill="none" stroke="#000" stroke-width="1.4" stroke-linejoin="miter"/>
<path d="M34.27 392.6V394.8M62.1 440.6V442.8M68.1 440.6V442.8M74.46 440.6V442.8M81.21 440.6V442.8M87.57 453.5V455.7M95.1 453.5V455.7M103.08 453.5V455.7M112.1 453.5V455.7" stroke="#000" stroke-width="1.2"/>
<path d="M25.4 386.8 L27.5 386.8 L27.6 394.4 L30 394.4 L30.3 402.4 L33.8 402.4 L34.3 418 L36.7 418.2 L37 434 L39.2 434.3 L39.38 434.3 L39.38 435.62 L39.57 435.62 L39.57 436.93 L39.75 436.93 L39.75 438.25 L39.93 438.25 L39.93 439.57 L40.12 439.57 L40.12 440.88 L40.3 440.88 L40.3 442.2 L42.3 442.5 L42.42 442.5 L42.42 443.82 L42.53 443.82 L42.53 445.13 L42.65 445.13 L42.65 446.45 L42.77 446.45 L42.77 447.77 L42.88 447.77 L42.88 449.08 L43 449.08 L43 450.4 L44.1 451 L44.5 466.3 L62.2 466.3 L62.5 477.3 L87.5 477.3 L88.1 491.8 L107 491.8 L107.2 521.5" fill="none" stroke="#8a8a8a" stroke-width="1.2" stroke-linejoin="miter"/>
<path d="M48.24 464.1V466.3M54.11 464.1V466.3M60.33 464.1V466.3M66.73 475.1V477.3M73.71 475.1V477.3M81.1 475.1V477.3M93.02 489.6V491.8M101.57 489.6V491.8M106.8 519.3V521.5" stroke="#8a8a8a" stroke-width="0.9"/>
<path d="M294.6 386.8 L295.2 386.8 L295.2 390.6 L298 390.6 L298.3 394.8 L299.5 394.8 L299.8 399 L301.4 399.2 L301.7 403 L303.9 403.2 L304.3 407.9 L308.4 408.2 L309 410.4 L310.1 410.4 L310.1 411.7 L310.8 414.5 L311.1 420.6 L315.5 420.6 L316.15 420.6 L316.15 422.05 L316.8 422.05 L316.8 423.5 L317.2 423.5 L317.2 424.97 L317.6 424.97 L317.6 426.43 L318 426.43 L318 427.9 L318.43 427.9 L318.43 429.2 L318.87 429.2 L318.87 430.5 L319.3 430.5 L319.3 431.8 L319.73 431.8 L319.73 433.13 L320.17 433.13 L320.17 434.47 L320.6 434.47 L320.6 435.8 L324.4 435.8 L325 442.6 L349.3 442.6 L349.7 456 L379.7 456" fill="none" stroke="#000" stroke-width="1.4" stroke-linejoin="miter"/>
<path d="M328.8 440.4V442.6M334.82 440.4V442.6M341.19 440.4V442.6M347.95 440.4V442.6M354.17 453.8V456M361.71 453.8V456M369.7 453.8V456M378.16 453.8V456M379.3 453.8V456" stroke="#000" stroke-width="1.2"/>
<path d="M294.5 391.5 L294.5 394.1 L296.2 394.4 L296.5 409.7 L298.7 410 L299 418 L299.6 418 L299.6 419 L300.2 419 L300.2 420 L300.8 442.3 L303.6 442.8 L304.1 450.5 L309.5 450.5 L309.61 450.5 L309.61 451.83 L309.73 451.83 L309.73 453.16 L309.84 453.16 L309.84 454.49 L309.96 454.49 L309.96 455.81 L310.07 455.81 L310.07 457.14 L310.19 457.14 L310.19 458.47 L310.3 458.47 L310.3 459.8 L311 465.5 L328.2 465.5 L328.4 477.1 L354.6 477.1 L354.9 491.4 L373.6 491.4 L373.8 521.4" fill="none" stroke="#8a8a8a" stroke-width="1.2" stroke-linejoin="miter"/>
<path d="M307.65 448.3V450.5M314.74 463.3V465.5M320.61 463.3V465.5M326.83 463.3V465.5M332.61 474.9V477.1M339.55 474.9V477.1M346.91 474.9V477.1M359.83 489.2V491.4M368.4 489.2V491.4M373.4 519.2V521.4" stroke="#8a8a8a" stroke-width="0.9"/>
<path d="M110.2 258.6H127.6" stroke="#8a8a8a" stroke-width="1.8"/>
<path d="M376.2 259.7H393.9" stroke="#8a8a8a" stroke-width="1.8"/>
<text class="s" x="1" y="9.2" font-size="11" fill="#000" xml:space="preserve">A</text>
<text class="s" x="266" y="9.2" font-size="11" fill="#000" xml:space="preserve">B</text>
<text class="s" x="1.2" y="196.8" font-size="11" fill="#000" xml:space="preserve">C</text>
<text class="s" x="265.8" y="196.8" font-size="11" fill="#000" xml:space="preserve">D</text>
<text class="s" x="0.9" y="381.4" font-size="11" fill="#000" xml:space="preserve">E</text>
<text class="s" x="265.8" y="381.4" font-size="11" fill="#000" xml:space="preserve">F</text>
<text class="r" x="137.5" y="54.8" font-size="9.5" fill="#000" stroke="#000" stroke-width="0.22" textLength="67.5" lengthAdjust="spacingAndGlyphs" xml:space="preserve">WT-CDS (n=195)</text>
<text class="r" x="49.8" y="121.2" font-size="9.5" fill="#000" stroke="#000" stroke-width="0.22" textLength="11.9" lengthAdjust="spacingAndGlyphs" xml:space="preserve">OS</text>
<text class="r" x="140.5" y="133.2" font-size="9.5" fill="#464646" stroke="#464646" stroke-width="0.22" textLength="70" lengthAdjust="spacingAndGlyphs" xml:space="preserve">MUT-CDS (n=49)</text>
<text class="r" x="403.75" y="54.8" font-size="9.5" fill="#000" stroke="#000" stroke-width="0.22" textLength="68.25" lengthAdjust="spacingAndGlyphs" xml:space="preserve">WT-CDS (n=195)</text>
<text class="r" x="314.1" y="120.8" font-size="9.5" fill="#000" stroke="#000" stroke-width="0.22" textLength="16.5" lengthAdjust="spacingAndGlyphs" xml:space="preserve">PFS</text>
<text class="r" x="406.9" y="133.2" font-size="9.5" fill="#464646" stroke="#464646" stroke-width="0.22" textLength="69.3" lengthAdjust="spacingAndGlyphs" xml:space="preserve">MUT-CDS (n=49)</text>
<text class="r" x="120.2" y="226.6" font-size="9.5" fill="#464646" stroke="#464646" stroke-width="0.22" textLength="112.3" lengthAdjust="spacingAndGlyphs" xml:space="preserve">With nSNV, WT-CDS (n=59)</text>
<text class="r" x="119.4" y="312.8" font-size="9.5" fill="#000" stroke="#000" stroke-width="0.22" textLength="114.5" lengthAdjust="spacingAndGlyphs" xml:space="preserve">No nSNV, WT-CDS,&#160; (n=136)</text>
<text class="r" x="52.9" y="315" font-size="9.5" fill="#000" stroke="#000" stroke-width="0.22" textLength="11.8" lengthAdjust="spacingAndGlyphs" xml:space="preserve">OS</text>
<text class="r" x="386.7" y="227.3" font-size="9.5" fill="#464646" stroke="#464646" stroke-width="0.22" textLength="113.1" lengthAdjust="spacingAndGlyphs" xml:space="preserve">With nSNV, WT-CDS (n=59)</text>
<text class="r" x="387.5" y="313.4" font-size="9.5" fill="#000" stroke="#000" stroke-width="0.22" textLength="109.6" lengthAdjust="spacingAndGlyphs" xml:space="preserve">No nSNV, WT-CDS (n=136)</text>
<text class="r" x="317.7" y="315.1" font-size="9.5" fill="#000" stroke="#000" stroke-width="0.22" textLength="16.1" lengthAdjust="spacingAndGlyphs" xml:space="preserve">PFS</text>
<text class="r" x="119.6" y="458.9" font-size="9.5" fill="#000" stroke="#000" stroke-width="0.22" textLength="114.8" lengthAdjust="spacingAndGlyphs" xml:space="preserve">No nSNV, MUT-CDS&#160; (n=32)</text>
<text class="r" x="116.7" y="501.3" font-size="9.5" fill="#464646" stroke="#464646" stroke-width="0.22" textLength="119.8" lengthAdjust="spacingAndGlyphs" xml:space="preserve">With nSNV, MUT-CDS (n=17)</text>
<text class="r" x="52.9" y="504.5" font-size="9.5" fill="#000" stroke="#000" stroke-width="0.22" textLength="11.8" lengthAdjust="spacingAndGlyphs" xml:space="preserve">OS</text>
<text class="r" x="386.2" y="459.4" font-size="9.5" fill="#000" stroke="#000" stroke-width="0.22" textLength="114.4" lengthAdjust="spacingAndGlyphs" xml:space="preserve">No nSNV, MUT-CDS&#160; (n=31)</text>
<text class="r" x="382.9" y="501.2" font-size="9.5" fill="#464646" stroke="#464646" stroke-width="0.22" textLength="120.4" lengthAdjust="spacingAndGlyphs" xml:space="preserve">With nSNV, MUT-CDS (n=17)</text>
<text class="r" x="317.9" y="504.5" font-size="9.5" fill="#000" stroke="#000" stroke-width="0.22" textLength="15.7" lengthAdjust="spacingAndGlyphs" xml:space="preserve">PFS</text>
<text class="r" x="37.7" y="131.6" font-size="9.5" stroke="#000" stroke-width="0.22" textLength="36.5" lengthAdjust="spacingAndGlyphs"><tspan font-style="italic">P</tspan>=0.0028</text>
<text class="r" x="304" y="131.4" font-size="9.5" stroke="#000" stroke-width="0.22" textLength="36.4" lengthAdjust="spacingAndGlyphs"><tspan font-style="italic">P</tspan>=0.0086</text>
<text class="r" x="45.5" y="325.6" font-size="9.5" stroke="#000" stroke-width="0.22" textLength="26.5" lengthAdjust="spacingAndGlyphs"><tspan font-style="italic">P</tspan>=0.15</text>
<text class="r" x="312" y="325.7" font-size="9.5" stroke="#000" stroke-width="0.22" textLength="26.9" lengthAdjust="spacingAndGlyphs"><tspan font-style="italic">P</tspan>=0.17</text>
<text class="r" x="42.8" y="515.5" font-size="9.5" stroke="#000" stroke-width="0.22" textLength="31.6" lengthAdjust="spacingAndGlyphs"><tspan font-style="italic">P</tspan>=0.019</text>
<text class="r" x="310.1" y="515.3" font-size="9.5" stroke="#000" stroke-width="0.22" textLength="31.6" lengthAdjust="spacingAndGlyphs"><tspan font-style="italic">P</tspan>=0.018</text>
<text class="r" x="51.6" y="196.9" font-size="9.8" stroke="#000" stroke-width="0.22" textLength="82.5" lengthAdjust="spacingAndGlyphs">5-Year OS (<tspan font-style="italic">P</tspan>=0.025)</text>
<text class="r" x="313.8" y="197.3" font-size="9.8" stroke="#000" stroke-width="0.22" textLength="87.7" lengthAdjust="spacingAndGlyphs">5-Year PFS (<tspan font-style="italic">P</tspan>=0.079)</text>
<text class="r" x="123.8" y="172.9" font-size="10.5" stroke="#000" stroke-width="0.22" textLength="33" lengthAdjust="spacingAndGlyphs">Months</text>
<text class="r" x="366.8" y="172.6" font-size="10.5" stroke="#000" stroke-width="0.22" textLength="33" lengthAdjust="spacingAndGlyphs">Months</text>
<text class="r" x="123.8" y="361.7" font-size="10.5" stroke="#000" stroke-width="0.22" textLength="33" lengthAdjust="spacingAndGlyphs">Months</text>
<text class="r" x="366.8" y="361.3" font-size="10.5" stroke="#000" stroke-width="0.22" textLength="33" lengthAdjust="spacingAndGlyphs">Months</text>
<text class="r" x="123.8" y="547.8" font-size="10.5" stroke="#000" stroke-width="0.22" textLength="33" lengthAdjust="spacingAndGlyphs">Months</text>
<text class="r" x="366.8" y="548" font-size="10.5" stroke="#000" stroke-width="0.22" textLength="33" lengthAdjust="spacingAndGlyphs">Months</text>
<text class="r" x="0" y="0" font-size="7.2" stroke="#000" stroke-width="0.18" text-anchor="middle" textLength="45.4" lengthAdjust="spacingAndGlyphs" transform="translate(6.1 74.3) rotate(-90)">Survival (%)</text>
<text class="r" x="0" y="0" font-size="7.2" stroke="#000" stroke-width="0.18" text-anchor="middle" textLength="45.4" lengthAdjust="spacingAndGlyphs" transform="translate(272.5 74.3) rotate(-90)">Survival (%)</text>
<text class="r" x="0" y="0" font-size="7.2" stroke="#000" stroke-width="0.18" text-anchor="middle" textLength="47" lengthAdjust="spacingAndGlyphs" transform="translate(6.1 262.1) rotate(-90)">Survival (%)</text>
<text class="r" x="0" y="0" font-size="7.2" stroke="#000" stroke-width="0.18" text-anchor="middle" textLength="46.4" lengthAdjust="spacingAndGlyphs" transform="translate(272.5 261.8) rotate(-90)">Survival (%)</text>
<text class="r" x="0" y="0" font-size="7.2" stroke="#000" stroke-width="0.18" text-anchor="middle" textLength="45.9" lengthAdjust="spacingAndGlyphs" transform="translate(6.1 446) rotate(-90)">Survival (%)</text>
<text class="r" x="0" y="0" font-size="7.2" stroke="#000" stroke-width="0.18" text-anchor="middle" textLength="45.4" lengthAdjust="spacingAndGlyphs" transform="translate(272.5 446.3) rotate(-90)">Survival (%)</text>
</svg></body></html>
